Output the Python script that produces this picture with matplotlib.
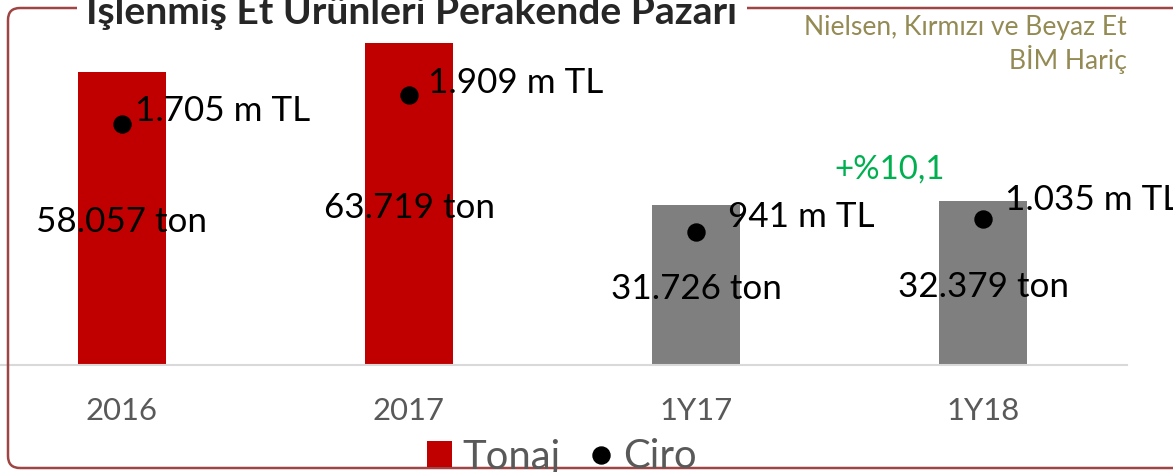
import matplotlib
matplotlib.use("Agg")
import matplotlib.pyplot as plt
from matplotlib.patches import FancyBboxPatch, Patch
from matplotlib.lines import Line2D
from matplotlib.transforms import IdentityTransform

# ---------------- data ----------------
categories = ["2016", "2017", "1Y17", "1Y18"]
tonaj = [58057, 63719, 31726, 32379]          # ton
ciro = [1705, 1909, 941, 1035]                # m TL
bar_colors = ["#C00000", "#C00000", "#7F7F7F", "#7F7F7F"]
title = "İşlenmiş Et Ürünleri Perakende Pazarı"
source_lines = ["Nielsen, Kırmızı ve Beyaz Et", "BİM Hariç"]
growth_label = "+%10,1"
legend_labels = ["Tonaj", "Ciro"]

# label offsets (pixels) for the Ciro labels: (dx from dot, dy up)
ciro_label_offsets = [(13, 13), (19, 12), (32, 15), (22, 19)]

W, H = 1173, 472
DPI = 100
PX = 72.0 / DPI  # points per pixel

plt.rcParams["font.family"] = ["Lato", "DejaVu Sans"]

fig = plt.figure(figsize=(W / DPI, H / DPI), dpi=DPI)

def fx(px):
    return px / W

def fy(py):
    return 1 - py / H

# axes: baseline at y=365 px, categories spaced 287 px, first centred at 122 px
ax = fig.add_axes([0, fy(365), fx(1126.5), 365 / H])
x = list(range(len(categories)))
ax.bar(x, tonaj, width=0.307, color=bar_colors, zorder=2)
ax.set_xlim(-0.5 + 21.5 / 287, 3.5)
ax.set_ylim(0, 72277)
for s in ["top", "left", "right"]:
    ax.spines[s].set_visible(False)
ax.spines["bottom"].set_color("#D9D9D9")
ax.spines["bottom"].set_linewidth(1.5)
ax.set_yticks([])
ax.set_xticks(x)
ax.set_xticklabels(categories)
ax.tick_params(axis="x", length=0, pad=32 * PX, labelsize=31 * PX, labelcolor="#595959")
ax.patch.set_visible(False)

# tonaj labels at bar centre
label_fs = 35 * PX
for xi, t in zip(x, tonaj):
    ax.annotate(f"{t:,}".replace(",", ".") + " ton", (xi, t / 2), xytext=(0, -4 * PX),
                textcoords="offset points", ha="center", va="center",
                fontsize=label_fs, color="black", zorder=5)

ax2 = ax.twinx()
ax2.set_ylim(0, 2585)
ax2.plot(x, ciro, linestyle="none", marker="o", color="black", markersize=17 * PX, zorder=4)
for s in ax2.spines.values():
    s.set_visible(False)
ax2.set_yticks([])
for xi, c, (dx, dy) in zip(x, ciro, ciro_label_offsets):
    ax2.annotate(f"{c:,}".replace(",", ".") + " m TL", (xi, c), xytext=(dx * PX, dy * PX),
                 textcoords="offset points", ha="left", va="center",
                 fontsize=label_fs, color="black", zorder=5)

# growth label
fig.text(fx(890), fy(170), growth_label, ha="center", va="center",
         fontsize=33 * PX, color="#00B050")

# source
fig.text(fx(1127), fy(27), source_lines[0], ha="right", va="center", fontsize=26.5 * PX, color="#948A54")
fig.text(fx(1127), fy(60), source_lines[1], ha="right", va="center", fontsize=26.5 * PX, color="#948A54")

# border
border = FancyBboxPatch((8, H - 468), 1200, 460,
                        boxstyle="round,pad=0,rounding_size=12",
                        transform=IdentityTransform(), facecolor="none",
                        edgecolor="#A04545", linewidth=2.5 * PX, zorder=1)
fig.add_artist(border)

# title (white box breaks the border line)
fig.text(fx(412), fy(24), title, ha="center", va="baseline", fontsize=39 * PX,
         fontweight="bold", color="#262626", zorder=10,
         bbox=dict(boxstyle="square,pad=0.25", facecolor="white", edgecolor="none"))

# legend
leg_fs = 40 * PX
handles = [Patch(facecolor="#C00000", edgecolor="none"),
           Line2D([], [], linestyle="none", marker="o", color="black", markersize=17 * PX)]
leg = fig.legend(handles, legend_labels, loc="center", bbox_to_anchor=(fx(562), fy(457)),
                 ncol=2, frameon=False, fontsize=leg_fs, labelcolor="#595959",
                 handlelength=0.62, handleheight=0.62, handletextpad=0.25,
                 columnspacing=0.7, borderpad=0, borderaxespad=0)
leg.set_zorder(20)

fig.savefig("out.png", dpi=DPI)
